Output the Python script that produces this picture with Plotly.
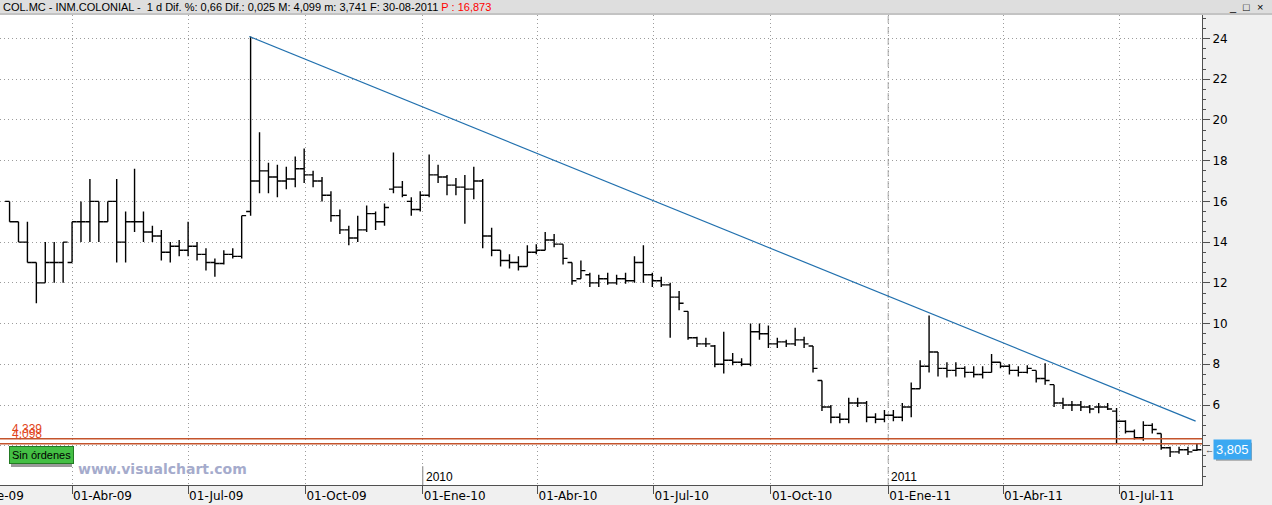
import pandas as pd
import plotly.graph_objects as go

# weekly bars, one per week starting on this Wednesday
WEEK_START = "2009-02-11"

OPEN = [
    16, 15, 14, 13, 12, 13, 13, 13, 15, 15, 16, 15, 16, 14, 15, 15, 14.5, 14.3, 13.5, 13.8,
    13.6, 13.8, 13.4, 13.0, 12.95, 13.4, 13.3, 15.5, 17.0, 17.5, 17.2, 17.0, 17.1, 17.6, 17.3, 17.0,
    16.3, 15.3, 14.6, 14.2, 14.6, 15.4, 15.0, 16.6, 16.7, 16.0, 15.6, 16.3, 17.3, 17.2, 16.8, 16.7,
    16.6, 17.0, 14.3, 13.6, 13.1, 13.0, 12.8, 13.5, 13.6, 14.1, 13.9, 13.0, 12.2, 12.4, 12.0, 12.2,
    12.0, 12.2, 12.1, 13.0, 12.4, 12.1, 11.9, 11.3, 10.6, 9.3, 9.0, 8.9, 8.0, 8.2, 8.1, 8.0,
    9.6, 9.5, 9.0, 9.1, 9.0, 9.2, 8.9, 7.2, 5.9, 5.4, 5.3, 6.1, 6.1, 5.4, 5.3, 5.5,
    5.4, 5.9, 6.8, 7.9, 8.6, 7.8, 7.7, 7.8, 7.6, 7.5, 7.6, 8.1, 7.9, 7.7, 7.6, 7.7,
    7.3, 7.0, 6.1, 6.0, 6.0, 5.9, 5.9, 5.9, 5.7, 5.2, 4.7, 4.4, 5.0, 4.6, 3.9, 3.7,
    3.8, 3.78,
]
HIGH = [
    16, 15, 15, 13, 14, 14, 14, 15, 16, 17.1, 16, 16, 17.1, 15.5, 17.6, 15.5, 14.8, 14.6, 14.0, 14.1,
    15.0, 14.0, 13.7, 13.2, 13.6, 13.7, 15.3, 24.1, 19.4, 17.9, 17.8, 17.7, 18.2, 18.6, 17.5, 17.2,
    16.5, 15.6, 14.8, 15.3, 15.8, 15.5, 15.9, 18.4, 17.0, 16.2, 16.5, 18.3, 17.8, 17.3, 17.15, 17.3,
    17.7, 17.1, 14.7, 13.6, 13.4, 13.3, 13.85, 13.9, 14.5, 14.4, 13.9, 13.0, 13.1, 12.5, 12.4, 12.5,
    12.4, 12.5, 13.3, 13.85, 12.5, 12.3, 12.0, 11.6, 10.6, 9.35, 9.3, 8.95, 9.6, 8.55, 8.3, 10.0,
    10.0, 9.9, 9.3, 9.2, 9.8, 9.35, 8.9, 7.2, 6.0, 5.6, 6.35, 6.35, 6.2, 5.6, 5.75, 5.75,
    6.1, 7.1, 8.2, 10.4, 8.6, 8.1, 8.1, 7.9, 7.9, 7.9, 8.5, 8.1, 8.0, 7.9, 7.95, 7.7,
    8.05, 7.0, 6.35, 6.2, 6.2, 6.0, 6.1, 6.1, 5.85, 5.25, 4.8, 5.2, 5.1, 4.6, 3.95, 3.95,
    3.95, 4.099,
]
LOW = [
    15, 14, 13, 11, 12, 12, 12, 13, 14, 14, 14, 15, 13, 13, 14.5, 14, 14, 13.1, 13.0, 13.3,
    13.3, 13.1, 12.6, 12.3, 12.9, 13.2, 13.2, 15.3, 16.4, 16.4, 16.2, 16.6, 16.7, 16.9, 16.7, 16.0,
    15.0, 14.4, 13.85, 14.0, 14.5, 14.6, 14.8, 16.4, 16.2, 15.3, 15.5, 16.2, 16.9, 16.3, 16.3, 14.9,
    16.1, 13.7, 13.3, 12.8, 12.7, 12.6, 12.8, 13.4, 13.6, 13.75, 12.9, 11.9, 12.2, 11.8, 11.8, 11.9,
    11.9, 11.95, 12.0, 12.0, 11.8, 11.8, 9.3, 10.65, 9.2, 8.85, 8.85, 7.85, 7.55, 7.95, 7.9, 7.9,
    9.2, 8.8, 8.8, 8.85, 8.9, 8.8, 7.6, 5.7, 5.1, 5.1, 5.1, 5.9, 5.15, 5.1, 5.15, 5.2,
    5.2, 5.4, 6.8, 7.6, 7.4, 7.35, 7.4, 7.35, 7.35, 7.3, 7.6, 7.8, 7.5, 7.4, 7.55, 7.1,
    7.0, 5.9, 5.8, 5.7, 5.7, 5.6, 5.6, 5.75, 4.1, 4.6, 4.3, 4.25, 4.6, 3.8, 3.45, 3.6,
    3.55, 3.741,
]
CLOSE = [
    15, 14, 13, 12, 13, 13, 14, 15, 15, 16, 15, 16, 14, 15, 15, 14.5, 14.3, 13.5, 13.8, 13.6,
    13.8, 13.4, 13.0, 12.95, 13.4, 13.3, 15.3, 17.0, 17.5, 17.2, 17.0, 17.1, 17.6, 17.3, 17.0, 16.3,
    15.3, 14.6, 14.2, 14.6, 15.4, 15.0, 15.7, 16.7, 16.3, 15.6, 16.3, 17.3, 17.2, 16.8, 16.7, 16.6,
    17.0, 14.3, 13.6, 13.1, 13.0, 12.8, 13.5, 13.6, 14.1, 13.9, 13.2, 12.1, 12.6, 12.0, 12.2, 12.0,
    12.2, 12.1, 13.0, 12.4, 12.1, 11.9, 11.3, 11.0, 9.3, 9.0, 9.0, 8.0, 8.2, 8.1, 8.0, 9.6,
    9.5, 9.0, 9.1, 9.0, 9.2, 9.0, 7.8, 5.9, 5.4, 5.3, 6.1, 6.1, 5.4, 5.3, 5.5, 5.4,
    5.9, 6.8, 7.9, 8.6, 7.8, 7.7, 7.8, 7.6, 7.5, 7.6, 8.1, 7.9, 7.7, 7.6, 7.8, 7.3,
    7.2, 6.1, 6.0, 6.0, 5.9, 5.8, 5.9, 5.8, 5.2, 4.7, 4.4, 5.0, 4.8, 3.9, 3.7, 3.8,
    3.7, 3.805,
]

TREND_DATES = ["2009-08-18", "2011-08-30"]
TREND_VALUES = [24.1, 5.21]

LEVELS = [4.339, 4.098]
LEVEL_LABELS = ["4,339", "4,098"]
LAST_PRICE = 3.805
LAST_LABEL = "3,805"

PRICE_TICKS = [4, 6, 8, 10, 12, 14, 16, 18, 20, 22, 24]
PRICE_TICK_LABELS = ["", "6", "8", "10", "12", "14", "16", "18", "20", "22", "24"]

QUARTER_DATES = [
    "2009-04-01", "2009-07-01", "2009-10-01", "2010-01-01", "2010-04-01",
    "2010-07-01", "2010-10-01", "2011-01-01", "2011-04-01", "2011-07-01",
]
QUARTER_LABELS = [
    "01-Abr-09", "01-Jul-09", "01-Oct-09", "01-Ene-10", "01-Abr-10",
    "01-Jul-10", "01-Oct-10", "01-Ene-11", "01-Abr-11", "01-Jul-11",
]
YEAR_DATES = ["2010-01-01", "2011-01-01"]
YEAR_LABELS = ["2010", "2011"]

HEADER = ("COL.MC - INM.COLONIAL -  1 d Dif. %: 0,66 Dif.: 0,025 M: 4,099 m: 3,741 "
          "F: 30-08-2011 <span style='color:#ff0000'>P : 16,873</span>")

dates = pd.date_range(WEEK_START, periods=len(CLOSE), freq="7D")

PLOT_W, PLOT_H = 1202, 470
FONT = "Liberation Sans, Arial, sans-serif"
TICK_FONT = "DejaVu Sans, sans-serif"
GRID = "#9c9c9c"
AXIS = "#505050"

fig = go.Figure()
fig.add_trace(go.Ohlc(
    x=dates, open=OPEN, high=HIGH, low=LOW, close=CLOSE,
    increasing=dict(line=dict(color="black", width=1.4)),
    decreasing=dict(line=dict(color="black", width=1.4)),
    tickwidth=0.5, showlegend=False,
))
fig.add_trace(go.Scatter(
    x=TREND_DATES, y=TREND_VALUES, mode="lines",
    line=dict(color="#2170ae", width=1.2), showlegend=False, hoverinfo="skip",
))

# support levels
for lv in LEVELS:
    fig.add_shape(type="line", xref="paper", x0=0, x1=1, y0=lv, y1=lv,
                  line=dict(color="#c4542c", width=1.6))
for lv, txt in zip(LEVELS, LEVEL_LABELS):
    fig.add_annotation(x=10 / PLOT_W, xref="paper", xanchor="left", y=lv, yref="y",
                       yanchor="bottom", yshift=1, text=txt, showarrow=False,
                       font=dict(size=12, color="#e2461c"))

# year separators
fig.add_shape(type="line", x0=YEAR_DATES[1], x1=YEAR_DATES[1], yref="paper", y0=0, y1=1,
              line=dict(color="#c4c4c4", width=1.5, dash="7px,4px"), layer="below")
fig.add_shape(type="line", x0=YEAR_DATES[0], x1=YEAR_DATES[0], yref="paper", y0=0, y1=0.04,
              line=dict(color="#808080", width=1), layer="below")
for d, txt in zip(YEAR_DATES, YEAR_LABELS):
    fig.add_annotation(x=d, xanchor="left", xshift=1, y=0.016, yref="paper", yanchor="middle",
                       text=txt, showarrow=False, font=dict(size=12, color="black"))

# header strip
fig.add_shape(type="rect", xref="paper", yref="paper", x0=0, x1=1272 / PLOT_W,
              y0=1, y1=1 + 15 / PLOT_H, fillcolor="#dedede", line=dict(width=0))
fig.add_shape(type="line", xref="paper", yref="paper", x0=0, x1=1272 / PLOT_W,
              y0=1 + 1 / PLOT_H, y1=1 + 1 / PLOT_H, line=dict(color="#a8a8a8", width=1))
fig.add_annotation(x=1 / PLOT_W, xref="paper", xanchor="left", y=1 + 8 / PLOT_H, yref="paper",
                   yanchor="middle", text=HEADER, showarrow=False,
                   font=dict(size=11, color="black"))
for xp, sym in zip([1239, 1252, 1265], ["_", "□", "×"]):
    fig.add_annotation(x=xp / PLOT_W, xref="paper", y=1 + 8 / PLOT_H, yref="paper",
                       yanchor="middle", text=sym, showarrow=False,
                       font=dict(size=11, color="black"))

# order status button
fig.add_shape(type="rect", xref="paper", yref="paper", x0=11 / PLOT_W, x1=72 / PLOT_W,
              y0=(485 - 467) / PLOT_H, y1=(485 - 448) / PLOT_H,
              fillcolor="#9a9a9a", line=dict(width=0))
fig.add_annotation(x=9 / PLOT_W, xref="paper", xanchor="left", y=(485 - 455) / PLOT_H,
                   yref="paper", yanchor="middle", text="Sin órdenes", showarrow=False,
                   bgcolor="#44bf44", bordercolor="#237a23", borderwidth=1, borderpad=2,
                   font=dict(size=11, color="black"))

# watermark
fig.add_annotation(x=76 / PLOT_W, xref="paper", xanchor="left", y=(485 - 469) / PLOT_H,
                   yref="paper", yanchor="middle", text="<b>www.visualchart.com</b>",
                   showarrow=False, font=dict(family="DejaVu Sans", size=14, color="#a5abcc"))

# clipped first quarter label on the left edge
fig.add_annotation(x=-40 / PLOT_W, xref="paper", xanchor="left", y=-11 / PLOT_H, yref="paper",
                   yanchor="middle", text="01-Ene-09", showarrow=False,
                   font=dict(family=TICK_FONT, size=12, color="black"))

# last price tag
fig.add_shape(type="rect", xref="paper", xsizemode="pixel", xanchor=1, x0=14, x1=50,
              yref="y", ysizemode="pixel", yanchor=LAST_PRICE, y0=-11, y1=7,
              fillcolor="#a0a0a0", line=dict(width=0))
fig.add_annotation(x=11 / PLOT_W + 1, xref="paper", xanchor="left", y=LAST_PRICE, yref="y",
                   yanchor="middle", text=LAST_LABEL, showarrow=False, bgcolor="#3aa8f2",
                   borderpad=2, font=dict(size=13, color="white"))
fig.add_annotation(x=1 + 1 / PLOT_W, xref="paper", xanchor="left", y=LAST_PRICE, yref="y",
                   yanchor="middle", text="←", showarrow=False,
                   font=dict(size=9, color="#404040"))

fig.update_layout(
    width=1272, height=505,
    margin=dict(l=0, r=70, t=15, b=20, pad=0),
    paper_bgcolor="#f0f0f0", plot_bgcolor="white",
    font=dict(family=FONT, size=12, color="black"),
    showlegend=False,
    xaxis=dict(
        type="date", range=["2009-02-03 12:00", "2011-09-04"],
        tickvals=QUARTER_DATES, ticktext=QUARTER_LABELS,
        ticks="outside", ticklen=8, tickcolor=AXIS, ticklabelposition="outside right",
        showgrid=True, gridcolor=GRID, griddash="1px,3px", gridwidth=1,
        showline=True, linecolor=AXIS, linewidth=1, zeroline=False,
        rangeslider=dict(visible=False), tickfont=dict(family=TICK_FONT, size=12),
    ),
    yaxis=dict(
        side="right", range=[2.071, 25.154],
        tickvals=PRICE_TICKS, ticktext=PRICE_TICK_LABELS,
        ticks="outside", ticklen=7, tickcolor=AXIS,
        minor=dict(tick0=0, dtick=0.5, ticks="outside", ticklen=3, tickcolor=AXIS, showgrid=False),
        showgrid=True, gridcolor=GRID, griddash="1px,3px", gridwidth=1,
        showline=True, linecolor=AXIS, linewidth=1, zeroline=False,
        tickfont=dict(family=TICK_FONT, size=12),
    ),
)

fig.write_html(
    "out.html",
    config={"displayModeBar": False},
    post_script="document.body.style.margin='0';document.body.style.overflow='hidden';",
)
